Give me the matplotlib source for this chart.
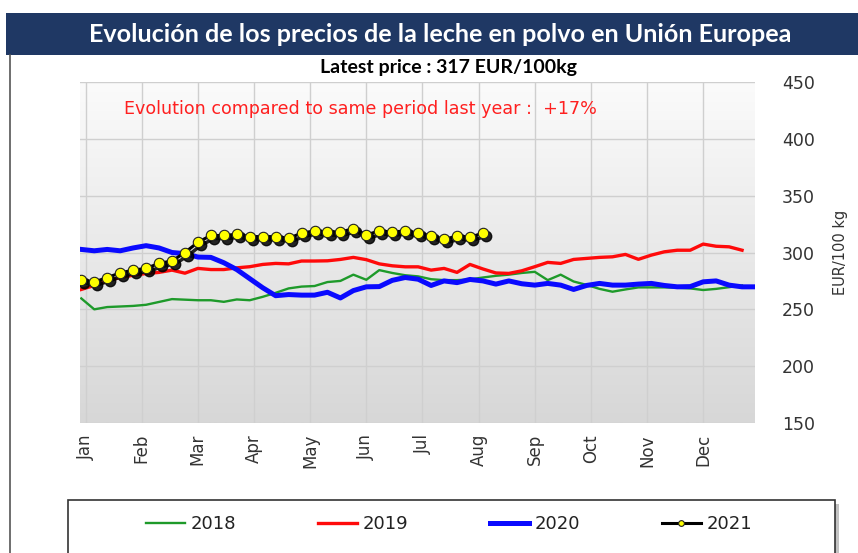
import numpy as np
import matplotlib
matplotlib.use("Agg")
import matplotlib.pyplot as plt
from matplotlib.transforms import ScaledTranslation
from matplotlib.patches import Rectangle
from matplotlib.lines import Line2D

# weekly prices, EUR/100 kg (week index 0 = first week of January)
p2018 = [259.6, 250, 252, 252.5, 253, 254, 256.5, 259, 258.5, 258, 258, 256.6, 258.7, 258, 261, 264.5,
         268.4, 270, 270.5, 274, 275, 280.5, 276, 284.5, 282, 280, 279, 276.5, 275.7, 275.7, 276.3, 278,
         279.5, 280.5, 282, 283, 275.7, 280.5, 274.5, 271.5, 268, 265.5, 267.5, 269.3, 269.3, 269.3, 269,
         268.4, 267, 268, 269.5, 271]
p2019 = [267.5, 271, 275, 278, 280, 281.5, 282.5, 284.5, 281.8, 286, 285, 285, 286.5, 287.5, 289.5, 290.4,
         290, 292.5, 292.5, 292.7, 293.9, 295.7, 293.7, 290, 288.3, 287.4, 287.4, 284.5, 286, 282.5, 289.5,
         285.5, 282, 281.6, 283.9, 287.5, 291.3, 290.4, 293.9, 294.8, 295.7, 296.2, 298.3, 294, 297.7, 300.6,
         302, 302, 307.4, 305.5, 305, 302]
p2020 = [302.7, 301.5, 302.7, 301.5, 304, 306, 304, 300, 299, 296, 295.7, 291, 285, 277, 269, 262, 263,
         262.5, 262.5, 265, 260, 266.5, 269.8, 270, 275.5, 278, 276.5, 271, 275, 273.5, 276.3, 275, 272.2,
         275, 272.5, 271.3, 272.8, 271.3, 267.5, 271, 272.8, 271.3, 271.3, 272.2, 272.8, 271, 269.8, 270,
         274.2, 275, 271.3, 269.8, 269.8]
p2021 = [276, 274, 278, 282, 284.5, 286, 290.5, 292.5, 300, 309, 315, 315, 316, 314, 314, 314, 312.5,
         317, 319, 318, 318, 321, 315.5, 319, 318, 319, 317, 314.5, 311.5, 314.5, 313.5, 317]
months = ["Jan", "Feb", "Mar", "Apr", "May", "Jun", "Jul", "Aug", "Sep", "Oct", "Nov", "Dec"]
yticks = [150, 200, 250, 300, 350, 400, 450]

fig = plt.figure(figsize=(8.58, 5.53), dpi=100)
ax = fig.add_axes([80/858, 1-423/553, 675/858, 341/553])

# title banner
fig.add_artist(Rectangle((6/858, 1-55/553), 852/858, 42/553, transform=fig.transFigure,
                         facecolor="#1f3864", edgecolor="none"))
fig.text(440/858, 1-34/553, "Evolución de los precios de la leche en polvo en Unión Europea",
         color="white", fontsize=18.1, fontweight="bold", family="Lato", ha="center", va="center")
fig.add_artist(Line2D([10/858, 10/858], [0, 1-55/553], transform=fig.transFigure, color="#555555", lw=1.2))
fig.text(448/858, 1-68/553, "Latest price : 317 EUR/100kg", fontsize=14, fontweight="bold",
         family="Lato", ha="center", va="center", color="black")

# gradient background
grad = np.linspace(0, 1, 256).reshape(-1, 1)
ax.imshow(grad, extent=(-0.1, 52, 150, 450), aspect="auto", cmap=matplotlib.colors.LinearSegmentedColormap.from_list(
    "g", ["#fbfbfb", "#d7d7d7"]), origin="upper", zorder=0)

xpos = lambda v: np.arange(len(v))
ax.plot(xpos(p2018), p2018, color="#1e9a2a", lw=1.7, zorder=3, label="2018")
ax.plot(xpos(p2019), p2019, color="#ff0a0a", lw=2.4, zorder=4, label="2019")
ax.plot(xpos(p2020), p2020, color="#0a0aff", lw=3.6, zorder=5, label="2020")
shadow = ax.transData + ScaledTranslation(2.2/72, -2.2/72, fig.dpi_scale_trans)
ax.plot(xpos(p2021), p2021, color="black", lw=2.5, marker="o", ms=7.5, mfc="black", mec="black",
        transform=shadow, zorder=6, alpha=0.85)
ax.plot(xpos(p2021), p2021, color="black", lw=2.2, marker="o", ms=7.5, mfc="#ffff00", mec="#222222",
        mew=0.8, zorder=7, label="2021")

ax.set_xlim(-0.1, 52)
ax.set_ylim(150, 450)
mpos = np.arange(12) * 52 / 12 + 0.33
ax.set_xticks(mpos)
ax.set_xticklabels(months, rotation=90, fontsize=12, color="#333333")
ax.set_yticks(yticks)
ax.yaxis.tick_right()
ax.tick_params(axis="y", length=0, pad=19.5, labelsize=12.5, labelcolor="#333333")
ax.tick_params(axis="x", length=0, pad=8)
ax.yaxis.set_label_position("right")
ax.set_ylabel("EUR/100 kg", fontsize=10.5, color="#333333", labelpad=13)
ax.grid(True, color="#cfcfcf", lw=1, zorder=1)
ax.set_axisbelow(True)
for s in ax.spines.values():
    s.set_visible(False)

ax.text(0.065, 0.92, "Evolution compared to same period last year :  +17%", transform=ax.transAxes,
        color="#ff2020", fontsize=12.6, ha="left", va="center")

# legend box with shadow
fig.add_artist(Rectangle((72/858, -0.02), 767/858, 1-504/553 + 0.02, transform=fig.transFigure,
                         facecolor="#9a9a9a", edgecolor="none", alpha=0.6))
fig.add_artist(Rectangle((68/858, -0.02), 767/858, 1-500/553 + 0.02, transform=fig.transFigure,
                         facecolor="white", edgecolor="#333333", lw=1.2))
h, l = ax.get_legend_handles_labels()
fig.legend(h, l, loc="center", bbox_to_anchor=(449/858, 1-524/553), ncol=4, frameon=False,
           fontsize=13, handlelength=2.2, handletextpad=0.3, columnspacing=4.5, markerscale=0.55,
           labelcolor="#222222")

fig.savefig("out.png", dpi=100)
